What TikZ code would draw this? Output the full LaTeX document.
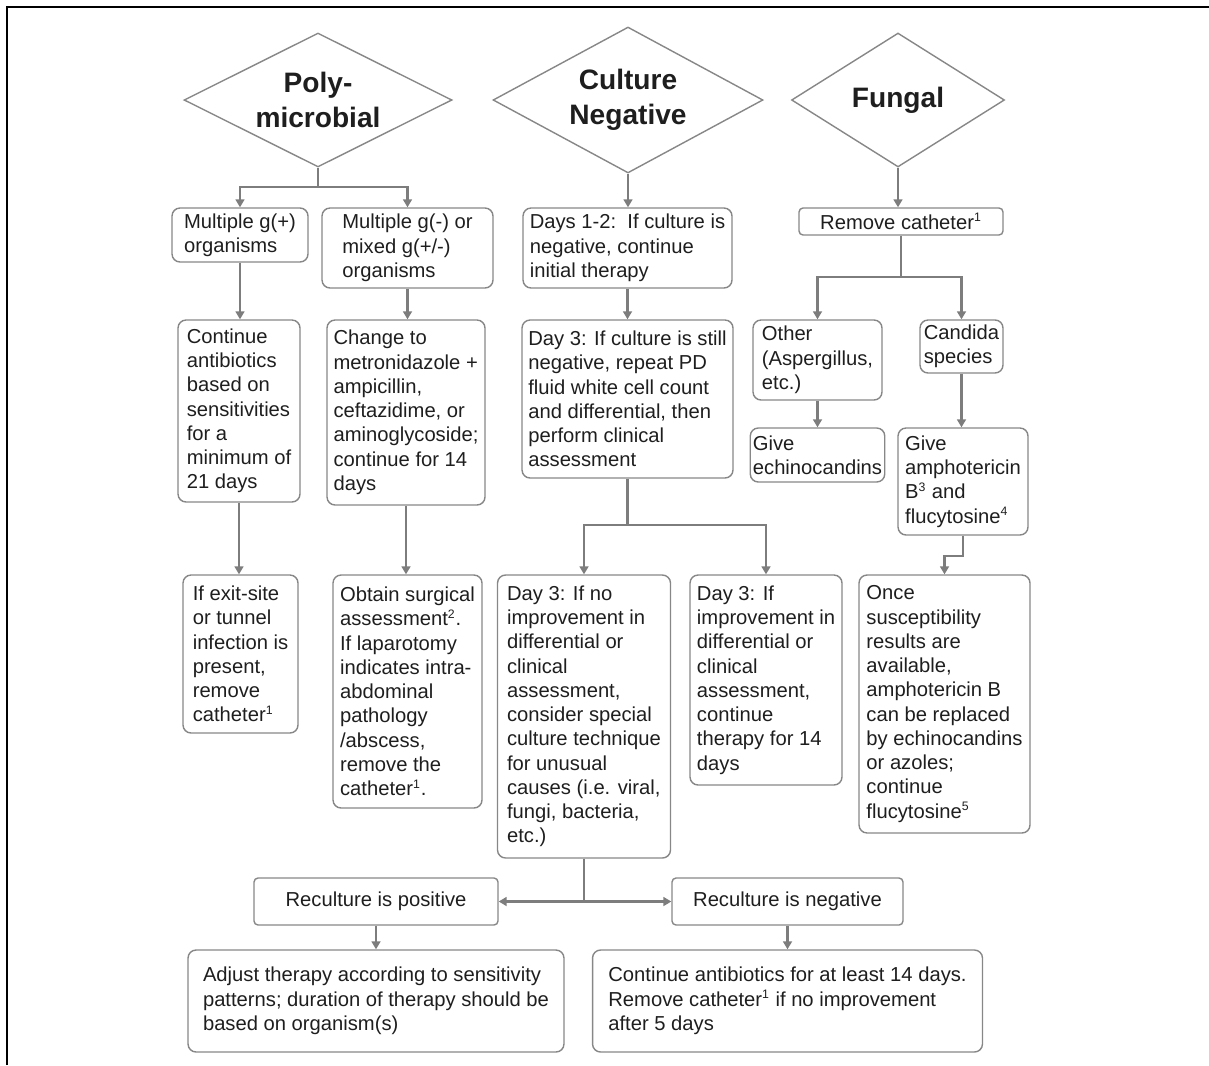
\documentclass[tikz,border=0pt]{standalone}
\usepackage{fontspec}
\setmainfont{Liberation Sans}
\usetikzlibrary{shapes.geometric, arrows.meta}
\definecolor{boxgray}{RGB}{135,135,135}
\definecolor{linegray}{RGB}{125,125,125}
\definecolor{inkgray}{RGB}{30,30,30}
\newcommand{\fnref}[1]{\textsuperscript{\fontsize{7}{7}\selectfont #1}}
\tikzstyle{blockbox} = [rectangle, rounded corners=0.16cm, draw=boxgray, line width=0.8pt, inner sep=1.5pt, align=left, text=inkgray, font=\fontsize{11.5}{13.8}\selectfont]
\tikzstyle{blockflat} = [blockbox, rounded corners=0.08cm]
\tikzstyle{blockdiamond} = [diamond, aspect=2, draw=boxgray, line width=0.8pt, inner sep=0pt, align=center, text=inkgray, font=\fontsize{16}{20}\selectfont\bfseries]
\tikzstyle{connector} = [linegray, line width=1.2pt]
\tikzstyle{arrow} = [connector, -{Triangle[length=4.5pt, width=5pt]}]
\begin{document}
\begin{tikzpicture}[x=0.02cm, y=-0.02cm]

\useasboundingbox (0,0) rectangle (1209,1065);
\draw [line width=1.6pt] (7,1065) -- (7,7) -- (1209,7);

\node (poly) [blockdiamond, minimum width=5.36cm, minimum height=2.68cm] at (318,100) {Poly-\\microbial};
\node (culture) [blockdiamond, minimum width=5.4cm, minimum height=2.92cm] at (628,100) {Culture\\Negative};
\node (fungal) [blockdiamond, minimum width=4.26cm, minimum height=2.68cm] at (898,100) {Fungal};

\node (mgp) [blockbox, minimum width=2.72cm, minimum height=1.08cm] at (240,235) {Multiple g(+)\\organisms};
\node (mgn) [blockbox, minimum width=3.42cm, minimum height=1.6cm] at (407.5,248) {Multiple g(-) or\\mixed g(+/-)\\organisms};
\node (cab) [blockbox, minimum width=2.44cm, minimum height=3.64cm] at (239,411) {Continue\\antibiotics\\based on\\sensitivities\\for a\\minimum of\\21 days};
\node (cmt) [blockbox, minimum width=3.16cm, minimum height=3.7cm] at (406,412.5) {Change to\\metronidazole +\\ampicillin,\\ceftazidime, or\\aminoglycoside;\\continue for 14\\days};
\node (ext) [blockbox, minimum width=2.3cm, minimum height=3.16cm] at (240.5,654) {If exit-site\\or tunnel\\infection is\\present,\\remove\\catheter\fnref{1}};
\node (osa) [blockbox, minimum width=2.98cm, minimum height=4.66cm] at (407.5,691.5) {Obtain surgical\\assessment\fnref{2}.\\If laparotomy\\indicates intra-\\abdominal\\pathology\\/abscess,\\remove the\\catheter\fnref{1}.};

\node (d12) [blockbox, minimum width=4.18cm, minimum height=1.6cm] at (627.5,248) {Days 1-2:\ \ If culture is\\negative, continue\\initial therapy};
\node (d3) [blockbox, minimum width=4.22cm, minimum height=3.16cm] at (627.5,399) {Day 3: If culture is still\\negative, repeat PD\\fluid white cell count\\and differential, then\\perform clinical\\assessment};
\node (d3n) [blockbox, minimum width=3.46cm, minimum height=5.66cm] at (584,716.5) {Day 3: If no\\improvement in\\differential or\\clinical\\assessment,\\consider special\\culture technique\\for unusual\\causes (i.e. viral,\\fungi, bacteria,\\etc.)};
\node (d3i) [blockbox, minimum width=3.04cm, minimum height=4.2cm] at (766,680) {Day 3: If\\improvement in\\differential or\\clinical\\assessment,\\continue\\therapy for 14\\days};

\node (rc) [blockflat, minimum width=4.08cm, minimum height=0.54cm] at (901,221.5) {Remove catheter\fnref{1}};
\node (oth) [blockbox, minimum width=2.58cm, minimum height=1.6cm] at (817.5,360) {Other\\(Aspergillus,\\etc.)};
\node (cand) [blockbox, minimum width=1.66cm, minimum height=1.06cm] at (961.5,346.5) {Candida\\species};
\node (gech) [blockbox, minimum width=2.62cm, minimum height=1.08cm] at (817.5,455) {Give\\echinocandins};
\node (gamp) [blockbox, minimum width=2.6cm, minimum height=2.14cm] at (963,481.5) {Give\\amphotericin\\B\fnref{3} and\\flucytosine\fnref{4}};
\node (once) [blockbox, minimum width=3.42cm, minimum height=5.16cm] at (944.5,704) {Once\\susceptibility\\results are\\available,\\amphotericin B\\can be replaced\\by echinocandins\\or azoles;\\continue\\flucytosine\fnref{5}};

\node (rpos) [blockflat, minimum width=4.88cm, minimum height=0.94cm] at (376,901.5) {Reculture is positive};
\node (rneg) [blockflat, minimum width=4.62cm, minimum height=0.94cm] at (787.5,901.5) {Reculture is negative};
\node (adj) [blockbox, minimum width=7.52cm, minimum height=2.04cm] at (376,1001) {Adjust therapy according to sensitivity\\patterns; duration of therapy should be\\based on organism(s)};
\node (cont) [blockbox, minimum width=7.8cm, minimum height=2.04cm] at (787.5,1001) {Continue antibiotics for at least 14 days.\\Remove catheter\fnref{1} if no improvement\\after 5 days};

\coordinate (pj) at (318,187);
\coordinate (cj) at (627.5,525);
\coordinate (fj) at (901,277);
\coordinate (rj) at (d3n.south |- rpos.east);

\draw [connector] (poly.south) -- (pj);
\draw [arrow] (pj) -| (mgp.north);
\draw [arrow] (pj) -| (mgn.north);
\draw [arrow] (mgp.south) -- (mgp.south |- cab.north);
\draw [arrow] (mgn.south) -- (mgn.south |- cmt.north);
\draw [arrow] (cab.south) -- (cab.south |- ext.north);
\draw [arrow] (cmt.south) -- (cmt.south |- osa.north);

\draw [arrow] (culture.south) -- (culture.south |- d12.north);
\draw [arrow] (d12) -- (d3);
\draw [connector] (d3.south) -- (cj);
\draw [arrow] (cj) -| (d3n.north);
\draw [arrow] (cj) -| (d3i.north);
\draw [connector] (d3n.south) -- (rj);
\draw [arrow] (rj) -- (rpos);
\draw [arrow] (rj) -- (rneg);
\draw [arrow] (rpos) -- (adj);
\draw [arrow] (rneg) -- (cont);

\draw [arrow] (fungal.south) -- (fungal.south |- rc.north);
\draw [connector] (rc.south) -- (fj);
\draw [arrow] (fj) -| (oth.north);
\draw [arrow] (fj) -| (cand.north);
\draw [arrow] (oth) -- (gech);
\draw [arrow] (cand.south) -- (cand.south |- gamp.north);
\draw [arrow] (gamp.south) -- ++(0,20) -| (once.north);

\end{tikzpicture}
\end{document}
